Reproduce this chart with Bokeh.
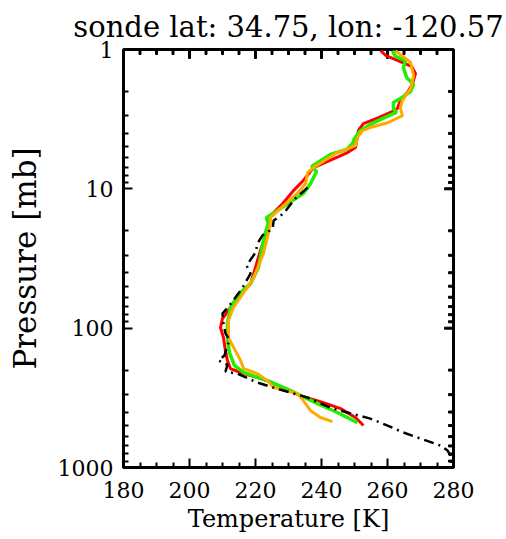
import numpy as np
from bokeh.plotting import figure
from bokeh.models import Range1d, FixedTicker, PrintfTickFormatter
from bokeh.embed import file_html
from bokeh.resources import INLINE

# ---- data (temperature [K], pressure [mb]) ----
red_t = [257.9, 259.4, 263.9, 267.3, 268.5, 267.6, 266.1, 263.9, 263.0, 260.9,
         257.3, 252.7, 251.2, 250.3, 247.9, 237.6, 234.5, 231.5, 228.2, 224.5,
         223.9, 223.0, 221.5, 220.0, 218.5, 214.5, 212.4, 210.0, 209.4, 210.3,
         210.9, 211.5, 212.4, 215.5, 223.6, 233.6, 240.6, 245.8, 250.3, 252.7]
red_p = [1.02, 1.10, 1.22, 1.32, 1.49, 1.75, 2.03, 2.32, 2.65, 2.83,
         3.08, 3.40, 3.81, 5.05, 5.49, 7.03, 8.71, 10.3, 12.8, 15.6,
         18.4, 21.6, 27.7, 36.7, 47.9, 60.3, 71.1, 85.3, 99, 117,
         145, 171, 195, 208, 238, 305, 342, 378, 438, 500]

green_t = [261.5, 262.4, 265.5, 264.8, 265.8, 267.9, 267.0, 263.9, 261.8, 261.8,
           262.7, 259.1, 254.8, 251.5, 250.0, 249.4, 247.6, 242.7, 237.0, 238.5,
           236.7, 234.5, 229.7, 226.7, 223.3, 223.9, 223.0, 222.1, 220.9, 218.5,
           214.8, 212.4, 211.5, 211.5, 212.1, 213.6, 216.4, 223.6, 230.6, 238.8,
           244.8, 250.9]
green_p = [1.02, 1.12, 1.20, 1.35, 1.59, 1.78, 2.00, 2.25, 2.40, 2.65,
           2.83, 3.08, 3.45, 3.88, 4.35, 4.73, 5.22, 5.67, 6.92, 7.51,
           9.16, 10.8, 12.8, 14.3, 16.1, 17.7, 20.6, 25.5, 36.7, 47.9,
           57.4, 71.1, 92.7, 117, 150, 185, 208, 238, 281, 348,
           403, 476]

orange_t = [262.4, 267.0, 267.9, 267.0, 264.5, 263.9, 264.5, 260.3, 254.8, 252.4,
            250.9, 250.3, 247.9, 244.8, 237.6, 235.8, 235.2, 232.7, 228.5, 224.5,
            224.5, 223.9, 222.4, 219.4, 216.4, 213.3, 211.8, 211.8, 213.9, 215.5,
            216.4, 220.6, 223.6, 225.5, 232.7, 234.5, 236.7, 239.7, 243.3]
orange_p = [1.02, 1.24, 1.54, 1.91, 2.32, 2.61, 2.98, 3.34, 3.63, 3.82,
            4.28, 4.89, 5.14, 5.49, 7.03, 7.64, 9.16, 10.8, 13.2, 16.1,
            17.7, 20.9, 29.1, 44.0, 55.5, 71.1, 88.2, 117, 145, 171,
            195, 212, 238, 267, 295, 331, 391, 438, 468]

black_t = [235.8, 232.1, 228.5, 225.5, 225.2, 222.1, 220.6, 220.0, 217.3, 218.5,
           216.4, 214.8, 212.1, 210.0, 210.3, 210.9, 212.1, 211.2, 210.6, 208.8,
           211.5, 210.9, 214.5, 220.6, 225.5, 230.6, 235.8, 242.7, 245.8, 254.8,
           260.0, 264.8, 270.0, 276.1, 278.2, 279.1, 279.4, 280.0]
black_p = [9.8, 11.7, 15.0, 16.9, 19.3, 21.6, 24.7, 28.7, 35.5, 40.6,
           49.5, 56.5, 68.8, 78.5, 92.7, 109, 121, 140, 157, 171,
           183, 205, 212, 246, 267, 290, 315, 372, 391, 446,
           500, 561, 620, 697, 756, 822, 922, 1000]

x_ticks = [180, 200, 220, 240, 260, 280]
y_ticks = [1, 10, 100, 1000]
title_text = "sonde lat: 34.75, lon: -120.57"
x_label = "Temperature [K]"
y_label = "Pressure [mb]"

SERIF = "DejaVu Serif"
X0, X1 = 180, 280
Y0, Y1 = 1000, 1

p = figure(width=506, height=539, y_axis_type="log",
           x_range=Range1d(X0, X1), y_range=Range1d(Y0, Y1),
           output_backend="svg", toolbar_location=None,
           min_border_left=123, min_border_right=53,
           min_border_top=49, min_border_bottom=72)

p.title.text = title_text
p.title.align = "center"
p.title.text_font = SERIF
p.title.text_font_size = "29px"
p.title.text_font_style = "normal"
p.title.text_color = "black"
p.title.standoff = 11

p.grid.visible = False
p.outline_line_color = "black"
p.outline_line_width = 3

x_minor = [float(v) for v in np.arange(X0, X1 + 1, 5) if v not in x_ticks]
y_minor = [k * 10.0 ** d for d in range(3) for k in range(2, 10)]
xt = FixedTicker(ticks=x_ticks, minor_ticks=x_minor)
yt = FixedTicker(ticks=y_ticks, minor_ticks=y_minor)

for ax in (p.xaxis[0], p.yaxis[0]):
    ax.axis_line_width = 3
    ax.axis_line_color = "black"
    ax.major_tick_in = 9
    ax.major_tick_out = 0
    ax.minor_tick_in = 5
    ax.minor_tick_out = 0
    ax.major_tick_line_width = 2
    ax.minor_tick_line_width = 2
    ax.major_tick_line_color = "black"
    ax.minor_tick_line_color = "black"
    ax.major_label_text_font = SERIF
    ax.major_label_text_font_size = "22px"
    ax.major_label_text_color = "black"
    ax.axis_label_text_font = SERIF
    ax.axis_label_text_font_style = "normal"
    ax.axis_label_text_color = "black"

xa = p.xaxis[0]
xa.ticker = xt
xa.major_label_standoff = 14
xa.axis_label = x_label
xa.axis_label_text_font_size = "24px"
xa.axis_label_standoff = 4

ya = p.yaxis[0]
ya.ticker = yt
ya.formatter = PrintfTickFormatter(format="%d")
ya.major_label_standoff = 10
ya.axis_label = y_label
ya.axis_label_text_font_size = "31px"
ya.axis_label_standoff = 12

# mirrored inward ticks on the top and right edges (rects centred on the edge, clipped by the frame)
p.rect(x=x_ticks, y=[Y1] * len(x_ticks), width=2, height=18,
       width_units="screen", height_units="screen", color="black")
p.rect(x=x_minor, y=[Y1] * len(x_minor), width=2, height=10,
       width_units="screen", height_units="screen", color="black")
p.rect(x=[X1] * len(y_ticks), y=y_ticks, width=18, height=2,
       width_units="screen", height_units="screen", color="black")
p.rect(x=[X1] * len(y_minor), y=y_minor, width=10, height=2,
       width_units="screen", height_units="screen", color="black")

p.line(red_t, red_p, line_color="#ff0000", line_width=3)
p.line(green_t, green_p, line_color="#22ee00", line_width=3.5)
p.line(orange_t, orange_p, line_color="#ffaa00", line_width=3)
p.line(black_t, black_p, line_color="black", line_width=2.5, line_dash="10 5 2 5")

open("out.html", "w").write(file_html(p, INLINE))
